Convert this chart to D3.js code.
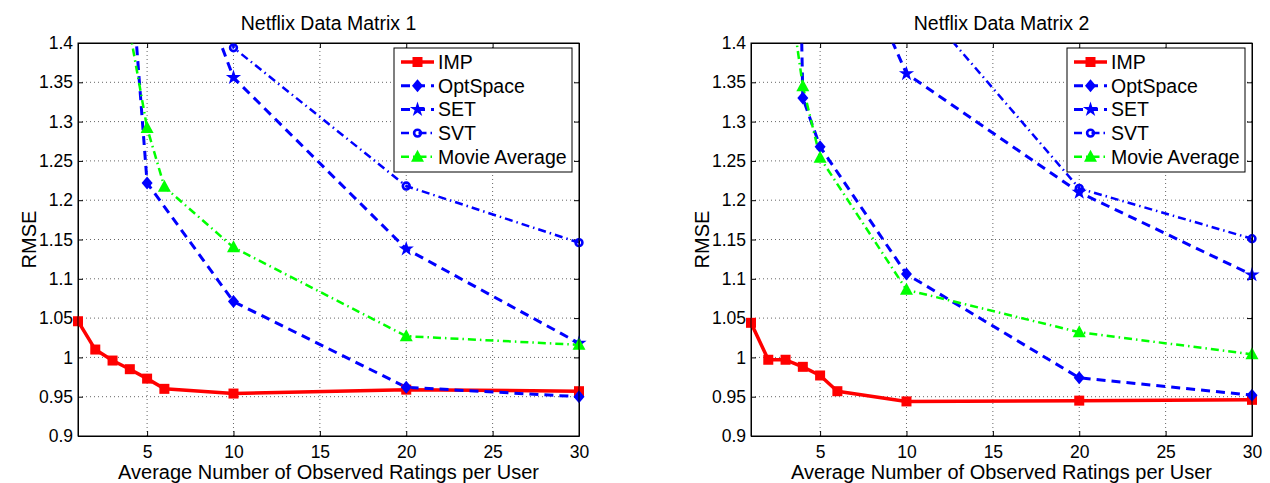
<!DOCTYPE html>
<html>
<head>
<meta charset="utf-8">
<script src="https://cdn.jsdelivr.net/npm/d3@7.9.0/dist/d3.min.js"></script>
<style>
  body { margin: 0; background: #fff; }
  svg text { font-family: "Liberation Sans", Arial, Helvetica, sans-serif; fill: #000; }
</style>
</head>
<body>
<svg id="chart" width="1270" height="483"></svg>
<script>
// data
const methods = ['IMP', 'OptSpace', 'SET', 'SVT', 'Movie Average'];
const xTicks = [5, 10, 15, 20, 25, 30];
const yTicks = [0.9, 0.95, 1, 1.05, 1.1, 1.15, 1.2, 1.25, 1.3, 1.35, 1.4];
const titles = ['Netflix Data Matrix 1', 'Netflix Data Matrix 2'];

// matrix 1
const impX1 = [1, 2, 3, 4, 5, 6, 10, 20, 30];
const impY1 = [1.046, 1.010, 0.996, 0.985, 0.973, 0.960, 0.954, 0.959, 0.957];
const optX1 = [4, 5, 10, 20, 30];
const optY1 = [1.51, 1.222, 1.071, 0.962, 0.950];
const setX1 = [6, 10, 20, 30];
const setY1 = [1.59, 1.356, 1.138, 1.018];
const svtX1 = [6, 10, 20, 30];
const svtY1 = [2.2, 1.394, 1.218, 1.146];
const movX1 = [4, 5, 6, 10, 20, 30];
const movY1 = [1.415, 1.292, 1.217, 1.140, 1.027, 1.016];

// matrix 2
const impX2 = [1, 2, 3, 4, 5, 6, 10, 20, 30];
const impY2 = [1.044, 0.997, 0.997, 0.988, 0.977, 0.957, 0.944, 0.945, 0.946];
const optX2 = [3, 4, 5, 10, 20, 30];
const optY2 = [2.45, 1.330, 1.268, 1.106, 0.974, 0.952];
const setX2 = [6, 10, 20, 30];
const setY2 = [1.56, 1.361, 1.210, 1.105];
const svtX2 = [10, 20, 30];
const svtY2 = [1.47, 1.215, 1.151];
const movX2 = [3, 4, 5, 10, 20, 30];
const movY2 = [1.50, 1.345, 1.254, 1.086, 1.032, 1.004];

const zip = (xs, ys) => xs.map((x, i) => ({ x, y: ys[i] }));
const panels = [
  [zip(impX1, impY1), zip(optX1, optY1), zip(setX1, setY1), zip(svtX1, svtY1), zip(movX1, movY1)],
  [zip(impX2, impY2), zip(optX2, optY2), zip(setX2, setY2), zip(svtX2, svtY2), zip(movX2, movY2)],
];

// styles per method
const styles = [
  { color: '#ff0000', width: 3.5, dash: null, marker: 'square' },
  { color: '#0000ff', width: 3, dash: '9,6', marker: 'diamond' },
  { color: '#0000ff', width: 3, dash: '9,6', marker: 'star' },
  { color: '#0000ff', width: 2.5, dash: '8,4,1.5,4', marker: 'circle' },
  { color: '#00ff00', width: 2.5, dash: '8,4,1.5,4', marker: 'triangle' },
];

const svg = d3.select('#chart');
const plotLeft = [78, 751];
const plotW = 501;
const plotTop = 43, plotBottom = 436;

function drawMarker(g, type, cx, cy, color) {
  if (type === 'square') {
    g.append('rect').attr('x', cx - 5).attr('y', cy - 5).attr('width', 10).attr('height', 10).attr('fill', color);
  } else if (type === 'diamond') {
    g.append('path').attr('d', `M${cx},${cy - 6.5}L${cx + 5.5},${cy}L${cx},${cy + 6.5}L${cx - 5.5},${cy}Z`).attr('fill', color);
  } else if (type === 'star') {
    g.append('path').attr('d', d3.symbol(d3.symbolStar, 72)()).attr('transform', `translate(${cx},${cy})`).attr('fill', color);
  } else if (type === 'circle') {
    g.append('circle').attr('cx', cx).attr('cy', cy).attr('r', 3.4).attr('fill', 'none').attr('stroke', color).attr('stroke-width', 2.6);
  } else if (type === 'triangle') {
    g.append('path').attr('d', `M${cx},${cy - 7}L${cx + 6.5},${cy + 5}L${cx - 6.5},${cy + 5}Z`).attr('fill', color);
  }
}

panels.forEach((series, p) => {
  const x = d3.scaleLinear().domain([1, 30]).range([plotLeft[p], plotLeft[p] + plotW]);
  const y = d3.scaleLinear().domain([0.9, 1.4]).range([plotBottom, plotTop]);
  const g = svg.append('g');

  // grid
  g.append('g').selectAll('line').data(xTicks.filter(t => t < 30)).join('line')
    .attr('x1', d => x(d)).attr('x2', d => x(d)).attr('y1', plotTop).attr('y2', plotBottom)
    .attr('stroke', '#666').attr('stroke-dasharray', '1,3');
  g.append('g').selectAll('line').data(yTicks.filter(t => t > 0.9 && t < 1.4)).join('line')
    .attr('x1', x(1)).attr('x2', x(30)).attr('y1', d => y(d)).attr('y2', d => y(d))
    .attr('stroke', '#666').attr('stroke-dasharray', '1,3');

  // axes, ticks pointing inward
  const fmt = d => String(+d.toFixed(2));
  const axB = g.append('g').attr('transform', `translate(0,${plotBottom})`)
    .call(d3.axisBottom(x).tickValues(xTicks).tickSizeInner(-5).tickSizeOuter(0).tickPadding(10).tickFormat(fmt));
  const axT = g.append('g').attr('transform', `translate(0,${plotTop})`)
    .call(d3.axisTop(x).tickValues(xTicks).tickSizeInner(-5).tickSizeOuter(0).tickFormat(''));
  const axL = g.append('g').attr('transform', `translate(${x(1)},0)`)
    .call(d3.axisLeft(y).tickValues(yTicks).tickSizeInner(-5).tickSizeOuter(0).tickPadding(5).tickFormat(fmt));
  const axR = g.append('g').attr('transform', `translate(${x(30)},0)`)
    .call(d3.axisRight(y).tickValues(yTicks).tickSizeInner(-5).tickSizeOuter(0).tickFormat(''));
  [axB, axT, axL, axR].forEach(a => {
    a.selectAll('path.domain').attr('stroke', '#000');
    a.selectAll('.tick line').attr('stroke', '#000');
    a.selectAll('text').style('font-size', '17.5px').attr('fill', '#000');
  });
  axB.selectAll('text').attr('dy', '0.71em');

  // clip for lines
  const clipId = `clip${p}`;
  svg.append('clipPath').attr('id', clipId).append('rect')
    .attr('x', x(1)).attr('y', plotTop).attr('width', x(30) - x(1)).attr('height', plotBottom - plotTop);

  const line = d3.line().x(d => x(d.x)).y(d => y(d.y));
  series.forEach((pts, i) => {
    const s = styles[i];
    g.append('path').datum(pts).attr('d', line)
      .attr('clip-path', `url(#${clipId})`)
      .attr('fill', 'none').attr('stroke', s.color).attr('stroke-width', s.width)
      .attr('stroke-dasharray', s.dash).attr('stroke-linejoin', 'round');
  });
  series.forEach((pts, i) => {
    const s = styles[i];
    const mg = g.append('g');
    pts.filter(d => d.y <= 1.4).forEach(d => drawMarker(mg, s.marker, x(d.x), y(d.y), s.color));
  });

  // frame on top
  g.append('rect').attr('x', x(1)).attr('y', plotTop).attr('width', x(30) - x(1)).attr('height', plotBottom - plotTop)
    .attr('fill', 'none').attr('stroke', '#000').attr('stroke-width', 1);

  // labels
  const cx = (x(1) + x(30)) / 2;
  g.append('text').attr('x', cx).attr('y', 30).attr('text-anchor', 'middle').style('font-size', '19.5px').text(titles[p]);
  g.append('text').attr('x', cx).attr('y', 479).attr('text-anchor', 'middle').style('font-size', '20px')
    .text('Average Number of Observed Ratings per User');
  g.append('text').attr('transform', `translate(${x(1) - 42},${(plotTop + plotBottom) / 2}) rotate(-90)`)
    .attr('text-anchor', 'middle').style('font-size', '20px').text('RMSE');

  // legend
  const lx = x(30) - 7 - 178, ly = 48;
  const lg = g.append('g');
  lg.append('rect').attr('x', lx).attr('y', ly).attr('width', 178).attr('height', 124)
    .attr('fill', '#fff').attr('stroke', '#000').attr('stroke-width', 1);
  methods.forEach((m, i) => {
    const s = styles[i];
    const yy = ly + 14 + i * 23.7;
    lg.append('line').attr('x1', lx + 7).attr('x2', lx + 40).attr('y1', yy).attr('y2', yy)
      .attr('stroke', s.color).attr('stroke-width', s.width).attr('stroke-dasharray', s.dash);
    drawMarker(lg, s.marker, lx + 23.5, yy, s.color);
    lg.append('text').attr('x', lx + 44).attr('y', yy).attr('dy', '0.36em').style('font-size', '19.5px').text(m);
  });
});
</script>
</body>
</html>
